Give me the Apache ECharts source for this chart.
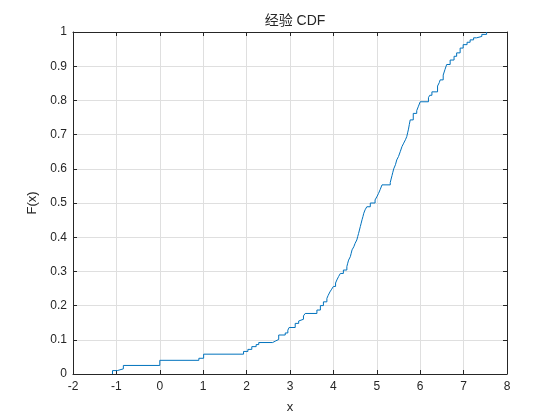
<!DOCTYPE html>
<html>
<head>
<meta charset="utf-8">
<script src="https://cdn.jsdelivr.net/npm/echarts@6/dist/echarts.min.js"></script>
<style>
html,body{margin:0;padding:0;background:#fff;}
#c{width:560px;height:420px;}
</style>
</head>
<body>
<div id="c"></div>
<script>
var jumpX = [-1.09,-0.98,-0.84,0.00,0.90,1.01,1.93,2.03,2.12,2.22,2.28,2.60,2.66,2.74,2.89,2.95,2.98,3.12,3.20,3.24,3.31,3.35,3.62,3.70,3.77,3.85,3.88,3.92,3.96,4.00,4.05,4.08,4.12,4.16,4.23,4.31,4.33,4.35,4.39,4.41,4.43,4.47,4.50,4.54,4.56,4.58,4.60,4.62,4.64,4.66,4.68,4.70,4.73,4.77,4.85,4.96,5.00,5.04,5.08,5.12,5.31,5.33,5.35,5.37,5.39,5.43,5.46,5.50,5.54,5.58,5.62,5.66,5.69,5.71,5.73,5.75,5.77,5.84,5.92,5.96,6.00,6.19,6.22,6.27,6.40,6.44,6.46,6.53,6.57,6.61,6.69,6.78,6.84,6.92,6.99,7.08,7.15,7.23,7.30,7.42,7.53];
var jumpF = [0.010,0.015,0.025,0.040,0.046,0.058,0.066,0.072,0.080,0.086,0.092,0.096,0.101,0.114,0.120,0.128,0.136,0.148,0.155,0.160,0.170,0.177,0.187,0.200,0.211,0.221,0.230,0.240,0.248,0.256,0.266,0.275,0.285,0.294,0.304,0.314,0.324,0.333,0.343,0.353,0.363,0.372,0.382,0.392,0.402,0.411,0.421,0.431,0.441,0.451,0.460,0.470,0.480,0.489,0.500,0.509,0.518,0.528,0.540,0.553,0.560,0.570,0.580,0.590,0.600,0.612,0.626,0.636,0.650,0.665,0.675,0.685,0.694,0.705,0.716,0.730,0.743,0.762,0.770,0.783,0.796,0.808,0.815,0.825,0.842,0.852,0.860,0.874,0.890,0.905,0.918,0.929,0.939,0.953,0.963,0.970,0.977,0.983,0.987,0.993,1.000];
var xTicks = ['-2','-1','0','1','2','3','4','5','6','7','8'];
var yTicks = ['0','0.1','0.2','0.3','0.4','0.5','0.6','0.7','0.8','0.9','1'];
var titleText = '经验 CDF';
var xName = 'x';
var yName = 'F(x)';

var seriesData = [[jumpX[0], 0]];
for (var i = 0; i < jumpX.length; i++) seriesData.push([jumpX[i], jumpF[i]]);

var font = '"Liberation Sans", Arial, "Noto Sans CJK SC", sans-serif';
var txt = '#262626';
var gridCol = '#dfdfdf';

function xAx(pos, show) {
  return {
    type: 'value', position: pos, min: -2, max: 8, interval: 1,
    axisLine: {show: true, onZero: false, lineStyle: {color: txt, width: 1}},
    axisTick: {show: true, inside: true, length: 4, lineStyle: {color: txt}},
    axisLabel: {show: show, color: txt, fontSize: 12, fontFamily: font, margin: 7,
      formatter: function (v) { return xTicks[Math.round(v + 2)]; }},
    splitLine: {show: show, lineStyle: {color: gridCol, width: 1}},
    name: show ? xName : '', nameLocation: 'middle', nameGap: 27,
    nameTextStyle: {color: txt, fontSize: 13, fontFamily: font}
  };
}
function yAx(pos, show) {
  return {
    type: 'value', position: pos, min: 0, max: 1, interval: 0.1,
    axisLine: {show: true, onZero: false, lineStyle: {color: txt, width: 1}},
    axisTick: {show: true, inside: true, length: 4, lineStyle: {color: txt}},
    axisLabel: {show: show, color: txt, fontSize: 12, fontFamily: font, margin: 6,
      formatter: function (v) { return yTicks[Math.round(v * 10)]; }},
    splitLine: {show: show, lineStyle: {color: gridCol, width: 1}},
    name: show ? yName : '', nameLocation: 'middle', nameGap: 33,
    nameTextStyle: {color: txt, fontSize: 13, fontFamily: font}
  };
}

var chart = echarts.init(document.getElementById('c'), null, {renderer: 'canvas'});
chart.setOption({
  animation: false,
  backgroundColor: '#ffffff',
  title: {text: titleText, left: 290, top: 9, textAlign: 'center',
    textStyle: {color: txt, fontSize: 14, fontWeight: 'normal', fontFamily: font}},
  grid: {left: 73, right: 53, top: 32, bottom: 46, containLabel: false},
  xAxis: [xAx('bottom', true), xAx('top', false)],
  yAxis: [yAx('left', true), yAx('right', false)],
  series: [{
    type: 'line', step: 'end', data: seriesData, showSymbol: false, symbol: 'none',
    xAxisIndex: 0, yAxisIndex: 0,
    lineStyle: {color: '#0072BD', width: 1}
  }]
});
</script>
</body>
</html>
